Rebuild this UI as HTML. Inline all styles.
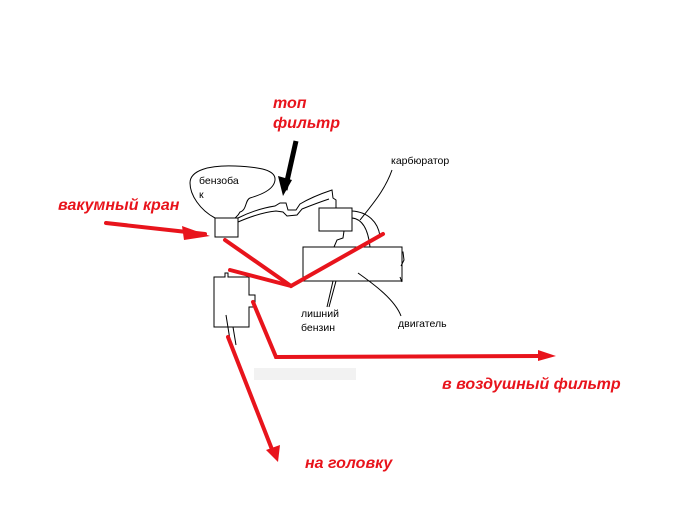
<!DOCTYPE html>
<html><head><style>
body{margin:0;background:#fff;}
svg{display:block;}
.r{font-family:"Liberation Sans",sans-serif;font-weight:bold;font-style:italic;fill:#e8141c;font-size:16px;}
.b{font-family:"Liberation Sans",sans-serif;fill:#000;font-size:10.5px;}
</style></head><body>
<svg width="693" height="522" viewBox="0 0 693 522" xmlns="http://www.w3.org/2000/svg">
<rect width="693" height="522" fill="#fff"/>
<g fill="none" stroke="#000" stroke-width="1">
<path d="M215,218 C200,210 190,195 190,183 C190,170 210,165 235,166 C260,167 276,170 275,180 C274,190 260,195 250,198 C245,200 247,210 240,212 C238,216 236,217 235,218"/>
<rect x="215" y="218" width="23" height="19"/>
<path d="M238,218 C250,212 262,208 275,206 L280,203 L286,203 L288,210 L296,210 L300,204 C310,198 320,194 332,190 L333,198 L336,200 L336,208"/>
<path d="M238,222 C252,216 264,212 276,211 L283,212 L287,216 L297,215 L302,209 C312,205 320,202 329,199"/>
<rect x="319" y="208" width="33" height="23"/>
<path d="M352,211 C368,212 378,222 380,236 M352,218 C362,219 368,228 370,247 M344,231 L343,238 L337,240 L334,247"/>
<rect x="303" y="247" width="99" height="34"/>
<path d="M402,252 L403,252 L404,260 L401,266 M402,282 L400,277"/>
<path d="M360,220 C372,205 385,190 392,170"/>
<path d="M358,273 C375,285 395,300 401,316"/>
<path d="M336,281 L329,307 M333,281 L327,307"/>
<path d="M214,277 L225,277 L225,273 L228,273 L228,277 L249,277 L249,295 L255,295 L255,307 L249,307 L249,327 L214,327 Z"/>
<path d="M226,315 L230,340 M233,327 L236,345"/>
</g>
<line x1="296" y1="141" x2="285" y2="190" stroke="#000" stroke-width="5"/>
<polygon points="278,176 283,196 292,180" fill="#000"/>
<g stroke="#e8141c" stroke-width="4" fill="none" stroke-linecap="round">
<line x1="106" y1="223" x2="205" y2="234"/>
<polyline points="225,240 291,286 383,234"/>
<line x1="230" y1="270" x2="291" y2="286"/>
<polyline points="253,302 276,357 540,356"/>
<line x1="228" y1="337" x2="273" y2="452"/>
</g>
<g fill="#e8141c">
<polygon points="182,226 210,236 184,240"/>
<polygon points="538,350 556,356 538,361"/>
<polygon points="266,450 278,462 280,445"/>
</g>
<text class="r" x="273" y="108">топ</text>
<text class="r" x="273" y="128">фильтр</text>
<text class="r" x="58" y="210">вакумный кран</text>
<text class="r" x="442" y="389">в воздушный фильтр</text>
<text class="r" x="305" y="468">на головку</text>
<text class="b" x="199" y="184">бензоба</text>
<text class="b" x="199" y="198">к</text>
<text class="b" x="391" y="164">карбюратор</text>
<text class="b" x="398" y="327">двигатель</text>
<text class="b" x="301" y="317">лишний</text>
<text class="b" x="301" y="331">бензин</text>
<rect x="254" y="368" width="102" height="12" fill="#f2f2f2"/>
</svg>
</body></html>
